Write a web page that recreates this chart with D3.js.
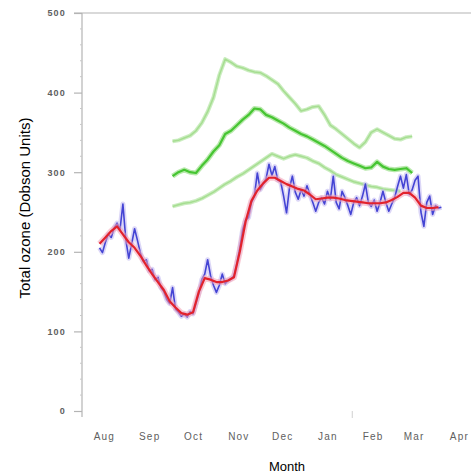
<!DOCTYPE html>
<html>
<head>
<meta charset="utf-8">
<script src="https://cdn.jsdelivr.net/npm/d3@7"></script>
<style>
  body { margin: 0; background: #fff; }
  svg { display: block; font-family: "Liberation Sans", Arial, sans-serif; }
</style>
</head>
<body>
<script>
// day offsets are counted from Aug 1
const dailyStart = 12, dailyStep = 2;
const dailyOzone = [205,199,212,222,218,230,236,228,260,215,192,210,229,214,198,188,190,176,178,165,
  168,155,150,140,135,155,128,124,119,122,118,125,122,135,148,165,172,190,170,158,
  149,158,172,160,164,166,170,185,205,228,240,243,262,270,299,278,285,292,310,296,
  307,290,288,270,249,280,295,275,266,278,270,283,272,262,251,262,268,260,276,266,
  295,262,254,276,268,258,247,262,268,258,270,285,262,257,265,251,262,276,262,251,
  260,268,282,295,280,297,272,278,290,295,250,232,262,270,247,258,255,256];

const smoothStart = 12, smoothStep = 4;
const smoothOzone = [210,218,226,232,222,212,205,195,183,172,162,152,138,130,123,121,124,150,167,165,
  162,162,164,168,200,238,264,277,286,293,293,289,285,282,279,277,272,266,267,268,
  268,267,265,264,263,262,261,261,261,262,265,269,274,274,268,258,255,255,256];

const climStart = 62, climStep = 4;
const climHigh = [339,340,343,346,352,362,376,394,422,442,438,433,431,428,426,425,421,416,411,402,
  394,386,377,379,382,383,372,359,354,348,342,336,331,338,350,354,350,346,342,341,344,345];
const climMean = [295,300,303,300,299,308,316,326,334,348,352,359,366,372,380,379,372,369,365,361,
  356,352,348,345,341,337,333,328,323,318,314,311,308,305,306,313,307,304,303,304,305,299];
const climLow = [257,259,261,262,264,267,271,275,280,285,289,294,298,303,308,313,318,323,320,317,
  320,322,320,318,314,311,306,302,297,294,291,288,286,284,282,281,279,278,277,276];

const monthLabels = ["Aug","Sep","Oct","Nov","Dec","Jan","Feb","Mar","Apr"];
const yTicks = [0,100,200,300,400,500];

const width = 471, height = 474;
const origin = new Date(2010, 7, 1);
const dayToDate = d => d3.timeDay.offset(origin, d);

const x = d3.scaleTime()
  .domain([origin, new Date(2011, 3, 1)])
  .range([82, 437]);
const y = d3.scaleLinear().domain([0, 500]).range([411, 13]);

function toSeries(values, start, step) {
  return values.map((v, i) => ({date: dayToDate(start + i * step), value: v}));
}

let svg = d3.select("body").append("svg")
  .attr("width", width)
  .attr("height", height);

// frame: top line + left axis line
svg.append("line")
  .attr("x1", 74).attr("x2", width)
  .attr("y1", y(500)).attr("y2", y(500))
  .attr("stroke", "#b4b4b4").attr("stroke-width", 1.2);
svg.append("line")
  .attr("x1", 82).attr("x2", 82)
  .attr("y1", y(500)).attr("y2", 417)
  .attr("stroke", "#b4b4b4").attr("stroke-width", 1.2);

// minor ticks
svg.append("g")
  .selectAll("line")
  .data(d3.range(20, 500, 20).filter(v => v % 100 != 0))
  .join("line")
  .attr("x1", 80).attr("x2", 82)
  .attr("y1", d => y(d)).attr("y2", d => y(d))
  .attr("stroke", "#c8c8c8");

let yAxis = svg.append("g")
  .attr("transform", "translate(82,0)")
  .call(d3.axisLeft(y).tickValues(yTicks).tickSize(8).tickPadding(8));
yAxis.select(".domain").remove();
yAxis.selectAll(".tick line").attr("stroke", "#b4b4b4").attr("stroke-width", 1.2);
yAxis.selectAll("text")
  .attr("fill", "#606060")
  .style("font-size", "9px")
  .style("font-weight", "bold")
  .style("letter-spacing", "1.2px");

let xAxis = svg.append("g")
  .attr("transform", "translate(0,430)")
  .call(d3.axisBottom(x)
    .tickValues(monthLabels.map((m, i) => new Date(2010, 7 + i, 16)))
    .tickFormat((d, i) => monthLabels[i])
    .tickSize(0).tickPadding(3));
xAxis.select(".domain").remove();
xAxis.selectAll("text")
  .attr("fill", "#606060")
  .style("font-size", "10px")
  .style("letter-spacing", "1.2px");

// stray tick near bottom
svg.append("line")
  .attr("x1", x(dayToDate(185))).attr("x2", x(dayToDate(185)))
  .attr("y1", 411).attr("y2", 418)
  .attr("stroke", "#d0d0d0");

svg.append("text")
  .attr("x", 287).attr("y", 471)
  .attr("text-anchor", "middle")
  .style("font-size", "13px")
  .text("Month");

svg.append("text")
  .attr("transform", "translate(30,208) rotate(-90)")
  .attr("text-anchor", "middle")
  .style("font-size", "15px")
  .text("Total ozone (Dobson Units)");

let line = d3.line()
  .x(d => x(d.date))
  .y(d => y(d.value))
  .curve(d3.curveLinear);

function drawLine(data, color, w, opacity) {
  svg.append("path")
    .datum(data)
    .attr("fill", "none")
    .attr("stroke", color)
    .attr("stroke-width", w)
    .attr("stroke-opacity", opacity)
    .attr("stroke-linejoin", "round")
    .attr("d", line);
}

// climatology envelope
drawLine(toSeries(climHigh, climStart, climStep), "#c4ebb8", 4, 0.9);
drawLine(toSeries(climHigh, climStart, climStep), "#a2dc8c", 1.5, 0.9);
drawLine(toSeries(climLow, climStart, climStep), "#c4ebb8", 4, 0.9);
drawLine(toSeries(climLow, climStart, climStep), "#a2dc8c", 1.5, 0.9);
drawLine(toSeries(climMean, climStart, climStep), "#9be08a", 5, 0.7);
drawLine(toSeries(climMean, climStart, climStep), "#46c532", 2.2, 1);

// daily values
drawLine(toSeries(dailyOzone, dailyStart, dailyStep), "#c4bcf2", 5, 0.6);
drawLine(toSeries(dailyOzone, dailyStart, dailyStep), "#4444d4", 1.6, 1);

// smoothed
drawLine(toSeries(smoothOzone, smoothStart, smoothStep), "#f4a0b4", 6, 0.55);
drawLine(toSeries(smoothOzone, smoothStart, smoothStep), "#e2222c", 2.2, 1);
</script>
</body>
</html>
